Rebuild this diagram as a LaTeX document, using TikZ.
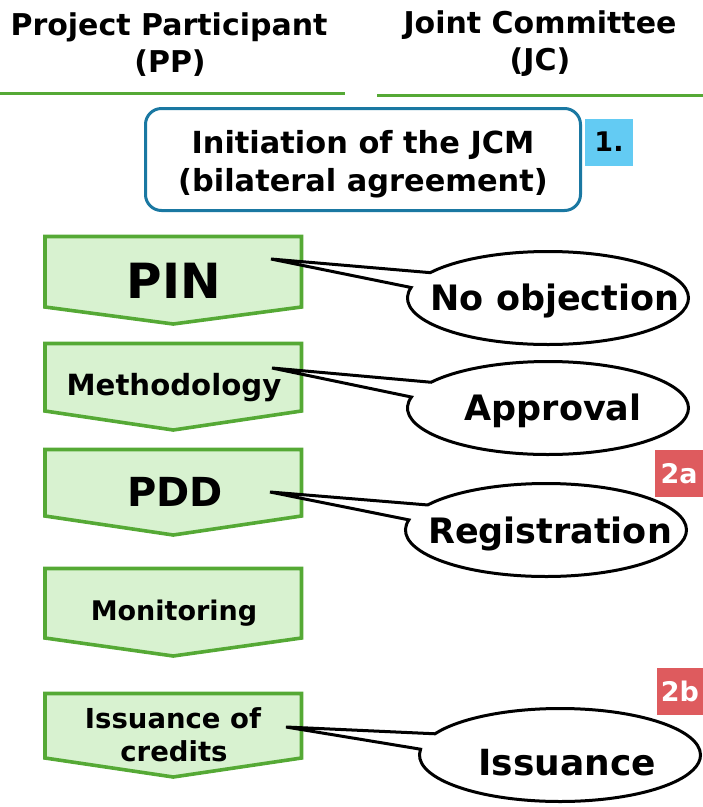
\documentclass[tikz,border=0pt]{standalone}
\usepackage{fontspec}
\setmainfont{DejaVu Sans}
\usetikzlibrary{shapes.callouts}
\definecolor{pgreen}{HTML}{55A935}
\definecolor{lgreen}{HTML}{D8F2D0}
\definecolor{tealb}{HTML}{1A78A2}
\definecolor{lblue}{HTML}{63CBF3}
\definecolor{rred}{HTML}{DE5B5E}
\newcommand{\stepshape}[3]{%
  \draw[stepbox] (45,#1) -- (301.5,#1) -- (301.5,#2) -- (173.25,#3) -- (45,#2) -- cycle;}
\begin{document}
\begin{tikzpicture}[x=1pt,y=-1pt,
  fs/.style={font=\bfseries\fontsize{#1}{#1}\selectfont},
  txt/.style={inner sep=0pt, anchor=base},
  stepbox/.style={draw=pgreen, fill=lgreen, line width=3.6pt, line join=miter},
  hline/.style={draw=pgreen, line width=3.5pt},
  bubble/.style={ellipse callout, draw=black, fill=white, line width=3pt,
    minimum width=281pt, minimum height=93pt, callout pointer arc=20, inner sep=0pt},
  tag/.style={inner sep=0pt, minimum width=48pt, minimum height=47pt,
    text height=19.5pt, text depth=0pt, fs=27}
]
\useasboundingbox (0,0) rectangle (703,807);

% header
\coordinate (l1) at (0,93.5);   \coordinate (l2) at (345,93.5);
\coordinate (r1) at (377,95.5); \coordinate (r2) at (703,95.5);
\draw[hline] (l1) -- (l2);
\draw[hline] (r1) -- (r2);
\node[txt, fs=30] (pp1) at (169,35) {Project Participant};
\node[txt, fs=30] (pp2) at (170,72) {(PP)};
\node[txt, fs=30] (jc1) at (540,33) {Joint Committee};
\node[txt, fs=30] (jc2) at (540,70) {(JC)};

% initiation
\node[draw=tealb, line width=3pt, rounded corners=16pt, minimum width=435pt,
  minimum height=102pt, inner sep=0pt] (init) at (363,159.5) {};
\node[txt, fs=30.4] (init1) at (363,153) {Initiation of the JCM};
\node[txt, fs=30.4] (init2) at (363,191) {(bilateral agreement)};
\node[tag, fill=lblue] (t1) at (609,142) {1.};

% steps
\stepshape{236.5}{307}{324}
\stepshape{343.5}{411}{430}
\stepshape{449.5}{516}{535}
\stepshape{568.5}{638}{656}
\stepshape{693.5}{758}{777}
\node[txt, fs=48.5] (pin) at (174,298) {PIN};
\node[txt, fs=29.2] (meth) at (174,395) {Methodology};
\node[txt, fs=40] (pdd) at (175,506) {PDD};
\node[txt, fs=27] (mon) at (174,620) {Monitoring};
\node[txt, fs=27.5] (iss1) at (173,728) {Issuance of};
\node[txt, fs=27.5] (iss2) at (174,761) {credits};

% callouts
\coordinate (pinptr) at (271,259);
\coordinate (methptr) at (272,368);
\coordinate (pddptr) at (270,492);
\coordinate (issptr) at (286,727);
\node[bubble, callout absolute pointer={(pinptr)}] (noobj) at (548,298) {};
\node[bubble, callout absolute pointer={(methptr)}] (appr) at (548,408) {};
\node[bubble, callout absolute pointer={(pddptr)}] (regi) at (546,530) {};
\node[bubble, callout absolute pointer={(issptr)}] (issu) at (560,755) {};
\node[txt, fs=35] (noobjt) at (555,310) {No objection};
\node[txt, fs=35] (apprt) at (553,420) {Approval};
\node[txt, fs=35] (regit) at (550,543) {Registration};
\node[txt, fs=36] (issut) at (567,775) {Issuance};

% tags
\node[tag, fill=rred, text=white] (t2a) at (679,473.5) {2a};
\node[tag, fill=rred, text=white, minimum width=46pt] (t2b) at (680,691.5) {2b};
\end{tikzpicture}
\end{document}
